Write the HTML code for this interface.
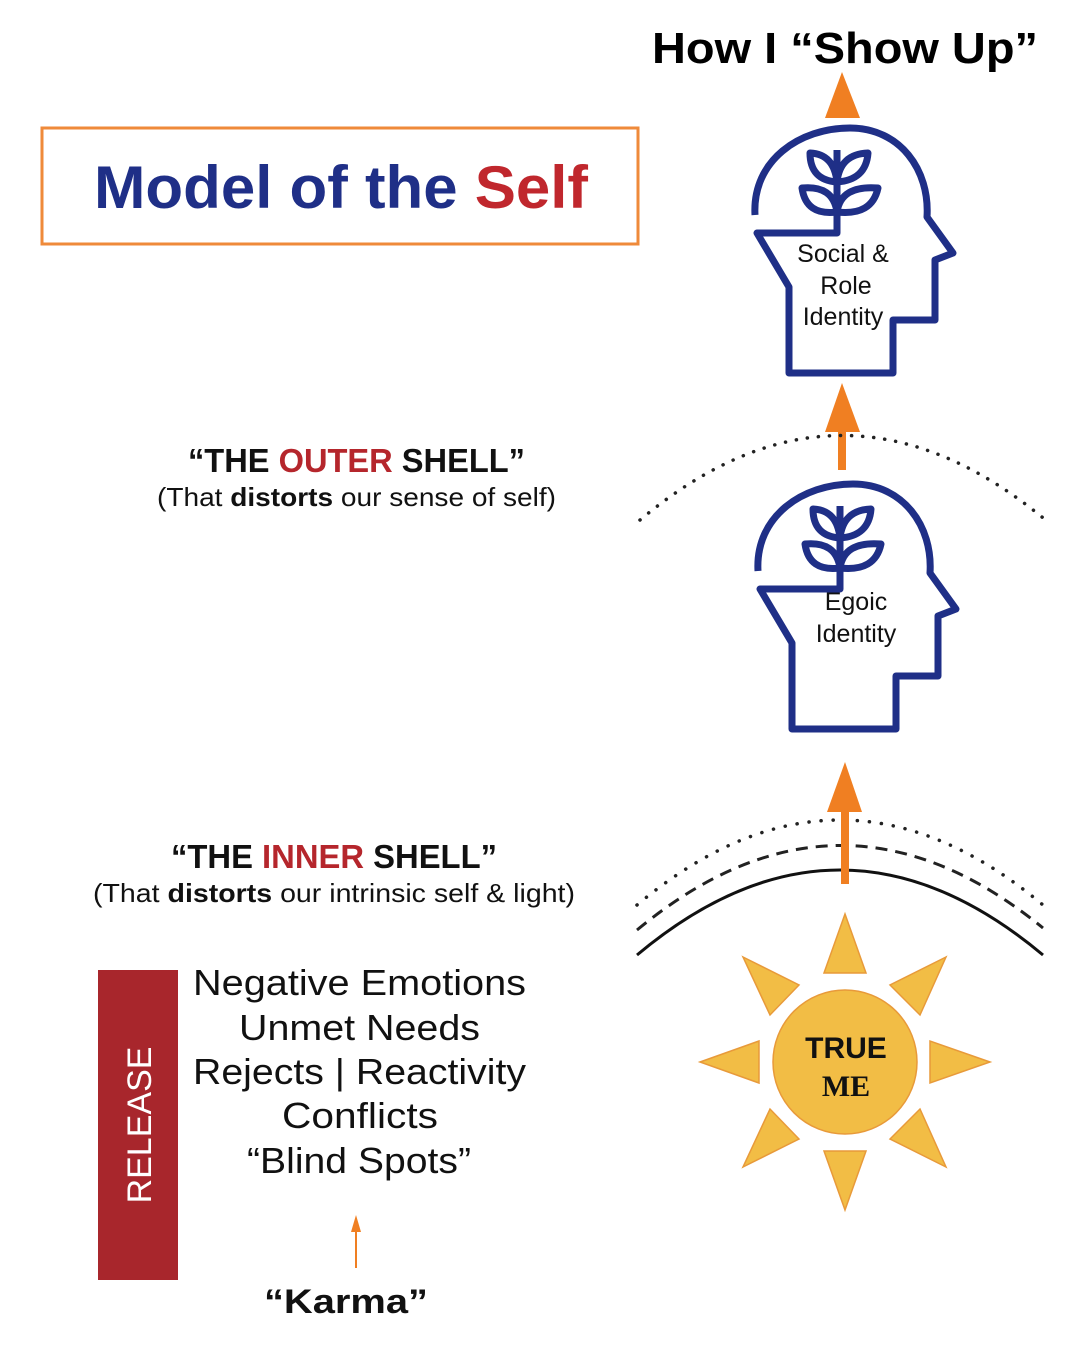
<!DOCTYPE html>
<html><head><meta charset="utf-8"><style>
html,body{margin:0;padding:0;background:#fff;}
svg{display:block;}
text{font-family:"Liberation Sans","DejaVu Sans",sans-serif;}
</style></head><body>
<svg width="1082" height="1354" viewBox="0 0 1082 1354" xmlns="http://www.w3.org/2000/svg">
<defs>
<g id="head">
<path d="M755,215 C752,160 800,128 850,128 C900,128 930,170 927,217 L953,253 L935,260 L935,320 L893,320 L893,373 L789,373 L789,287 L757,233 L837,233 L837,215" fill="none" stroke="#1f2f87" stroke-width="7" stroke-linejoin="round"/>
<path d="M837,215 L837,150" fill="none" stroke="#1f2f87" stroke-width="7"/>
<g fill="none" stroke="#1f2f87" stroke-width="7" stroke-linejoin="round">
<path d="M837,212 Q833,185 802,188 Q806,216 837,212Z"/>
<path d="M837,212 Q841,185 878,188 Q872,216 837,212Z"/>
<path d="M837,182 Q834,154 810,153 Q810,180 837,182Z"/>
<path d="M837,182 Q840,154 868,153 Q866,180 837,182Z"/>
</g>
</g>
</defs>
<rect x="42" y="128" width="596" height="116" fill="none" stroke="#ef8a3a" stroke-width="3"/>
<text x="94" y="208" textLength="494" lengthAdjust="spacingAndGlyphs" font-size="60" font-weight="bold" fill="#1f2f87">Model of the <tspan fill="#c0272d">Self</tspan></text>
<text x="652" y="63" textLength="386" lengthAdjust="spacingAndGlyphs" font-size="44" font-weight="bold" fill="#000">How I “Show Up”</text>
<polygon points="842,72 825,118 860,118" fill="#f07f22"/>
<use href="#head"/>
<text font-size="25" fill="#111" text-anchor="middle"><tspan x="843" y="262">Social &amp;</tspan><tspan x="846" y="294">Role</tspan><tspan x="843" y="325">Identity</tspan></text>
<polygon points="842,383 825,432 860,432" fill="#f07f22"/>
<rect x="838" y="430" width="8" height="40" fill="#f07f22"/>
<path d="M640,520 Q843,350 1048,522" fill="none" stroke="#222" stroke-width="3.5" stroke-dasharray="0.1 11" stroke-linecap="round"/>
<use href="#head" transform="translate(3,356)"/>
<text font-size="25" fill="#111" text-anchor="middle"><tspan x="856" y="610">Egoic</tspan><tspan x="856" y="642">Identity</tspan></text>
<text x="188" y="472" textLength="337" lengthAdjust="spacingAndGlyphs" font-size="33" font-weight="bold" fill="#111">“THE <tspan fill="#b5262c">OUTER</tspan> SHELL”</text>
<text x="157" y="506" textLength="399" lengthAdjust="spacingAndGlyphs" font-size="26" fill="#111">(That <tspan font-weight="bold">distorts</tspan> our sense of self)</text>
<text x="171" y="868" textLength="326" lengthAdjust="spacingAndGlyphs" font-size="33" font-weight="bold" fill="#111">“THE <tspan fill="#b5262c">INNER</tspan> SHELL”</text>
<text x="93" y="902" textLength="482" lengthAdjust="spacingAndGlyphs" font-size="26" fill="#111">(That <tspan font-weight="bold">distorts</tspan> our intrinsic self &amp; light)</text>
<path d="M637,905 Q840,735 1043,905" fill="none" stroke="#222" stroke-width="3.5" stroke-dasharray="0.1 12" stroke-linecap="round"/>
<path d="M637,930 Q840,762 1043,928" fill="none" stroke="#222" stroke-width="3" stroke-dasharray="12 8"/>
<path d="M637,955 Q840,785 1043,955" fill="none" stroke="#111" stroke-width="3"/>
<polygon points="845,762 827,812 862,812" fill="#f07f22"/>
<rect x="841" y="810" width="8" height="74" fill="#f07f22"/>
<g fill="#f2bd45" stroke="#e89a3a" stroke-width="1.5">
<circle cx="845" cy="1062" r="72"/>
<polygon points="845,914 824,973 866,973"/>
<polygon points="845,1210 824,1151 866,1151"/>
<polygon points="700,1062 759,1041 759,1083"/>
<polygon points="990,1062 930,1041 930,1083"/>
<polygon points="743,957 799,985 770,1015"/>
<polygon points="946,957 890,985 920,1015"/>
<polygon points="743,1167 799,1139 770,1109"/>
<polygon points="946,1167 890,1139 920,1109"/>
</g>
<text x="846" y="1058" text-anchor="middle" font-size="30" font-weight="bold" fill="#111">TRUE</text>
<text x="846" y="1096" text-anchor="middle" font-size="30" font-weight="bold" fill="#111" style="font-family:'Liberation Serif',serif">ME</text>
<rect x="98" y="970" width="80" height="310" fill="#a8262c"/>
<text transform="translate(151,1125) rotate(-90)" text-anchor="middle" font-size="34" fill="#fff">RELEASE</text>
<g font-size="36" fill="#111">
<text x="193" y="995" textLength="333" lengthAdjust="spacingAndGlyphs">Negative Emotions</text>
<text x="239" y="1040" textLength="241" lengthAdjust="spacingAndGlyphs">Unmet Needs</text>
<text x="193" y="1084" textLength="333" lengthAdjust="spacingAndGlyphs">Rejects | Reactivity</text>
<text x="282" y="1128" textLength="156" lengthAdjust="spacingAndGlyphs">Conflicts</text>
<text x="247" y="1173" textLength="224" lengthAdjust="spacingAndGlyphs">“Blind Spots”</text>
</g>
<line x1="356" y1="1268" x2="356" y2="1230" stroke="#f07f22" stroke-width="2"/>
<polygon points="356,1215 351,1232 361,1232" fill="#f07f22"/>
<text x="264" y="1313" textLength="164" lengthAdjust="spacingAndGlyphs" font-size="34" font-weight="bold" fill="#111">“Karma”</text>
</svg>
</body></html>
